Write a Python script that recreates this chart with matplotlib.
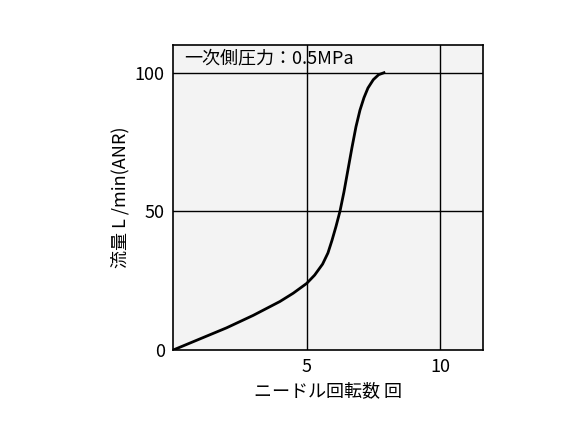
import matplotlib.pyplot as plt
import numpy as np

plt.rcParams['font.family'] = ['Noto Sans CJK JP', 'DejaVu Sans']

# needle turns vs flow rate
turns = [0, 1, 2, 3, 4, 4.5, 5, 5.3, 5.6, 5.8, 5.95, 6.1, 6.25, 6.4, 6.55, 6.7, 6.85, 7.0, 7.15, 7.3, 7.5, 7.7, 7.9]
flow = [0, 4, 8, 12.5, 17.5, 20.5, 24, 27, 31, 35, 39.5, 44.5, 50, 57, 65, 73, 80.5, 86.5, 91, 94.5, 97.5, 99.3, 100]
xticks = [5, 10]
yticks = [0, 50, 100]

fig = plt.figure(figsize=(5.83, 4.37), dpi=100)
ax = fig.add_axes([0.297, 0.199, 0.531, 0.698])
ax.set_facecolor('#f3f3f3')

ax.plot(turns, flow, color='black', lw=2, solid_joinstyle='round')

for x in xticks:
    ax.axvline(x, color='black', lw=1)
for y in [50, 100]:
    ax.axhline(y, color='black', lw=1)

ax.text(0.4, 105, '一次側圧力：0.5MPa', fontsize=13, va='center')

ax.set_xlim(0, 11.6)
ax.set_ylim(0, 110)
ax.set_xticks(xticks)
ax.set_yticks(yticks)
ax.tick_params(length=0, labelsize=13, pad=6)
for s in ax.spines.values():
    s.set_linewidth(1.2)
ax.set_xlabel('ニードル回転数 回', fontsize=13)
ax.set_ylabel('流量 L /min(ANR)', fontsize=13)

fig.savefig('out.png')
